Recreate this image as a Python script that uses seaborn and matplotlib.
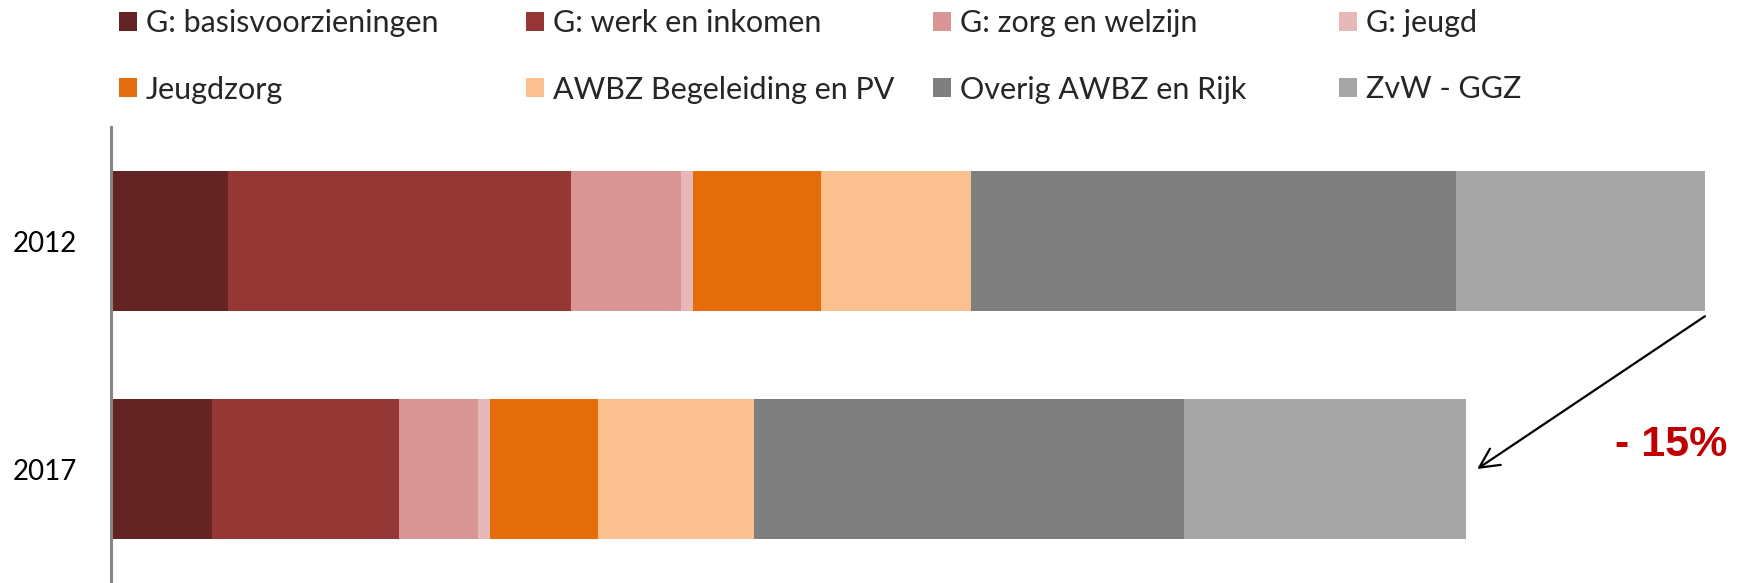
import pandas as pd
import matplotlib.pyplot as plt
from matplotlib.patches import Patch
import seaborn as sns

# index, 2012 total = 100
years = ["2012", "2017"]
categories = ["G: basisvoorzieningen", "G: werk en inkomen", "G: zorg en welzijn", "G: jeugd",
              "Jeugdzorg", "AWBZ Begeleiding en PV", "Overig AWBZ en Rijk", "ZvW - GGZ"]
values_2012 = [7.3, 21.5, 6.9, 0.8, 8.0, 9.4, 30.5, 15.6]
values_2017 = [6.3, 11.7, 5.0, 0.7, 6.8, 9.8, 27.0, 17.7]
colors = ["#632423", "#953735", "#D99594", "#E6B9B8",
          "#E46C0A", "#FAC090", "#7F7F7F", "#A6A6A6"]
change_label = "- 15%"

df = pd.DataFrame({"2012": values_2012, "2017": values_2017}, index=categories)
cum = df.cumsum()

sns.set_theme(style="white")
plt.rcParams["font.family"] = ["Lato", "DejaVu Sans"]

fig = plt.figure(figsize=(17.47, 5.83), dpi=100)
ax = fig.add_axes([110.5 / 1747, 0, 1 - 110.5 / 1747, 456 / 583])

# stacked bars: draw cumulative totals from the back to the front
for cat, col in reversed(list(zip(categories, colors))):
    sns.barplot(x=cum.loc[cat].values, y=years, orient="h", color=col,
                saturation=1, width=0.616, linewidth=0, ax=ax)

ax.set_ylim(1.5, -0.5)
ax.set_xlim(-0.094, 102.64)
ax.set_xlabel("")
ax.set_ylabel("")
ax.set_xticks([])
ax.tick_params(axis="y", length=0, pad=24, labelsize=20, labelcolor="black")
for s in ["top", "right", "bottom"]:
    ax.spines[s].set_visible(False)
ax.spines["left"].set_color("#868686")
ax.spines["left"].set_linewidth(2.2)

# arrow from end of 2012 bar to end of 2017 bar
tot12 = cum.loc[categories[-1], "2012"]
tot17 = cum.loc[categories[-1], "2017"]
ax.annotate("", xy=(tot17 + 0.7, 1.0), xytext=(tot12, 0.33),
            arrowprops=dict(arrowstyle="->,head_length=0.7,head_width=0.35",
                            mutation_scale=20, lw=1.6, color="black",
                            shrinkA=0, shrinkB=0))
fig.text(1727 / 1747, 1 - 445 / 583, change_label, ha="right", va="center",
         fontsize=31, fontweight="bold", color="#C00000",
         family=["Liberation Sans", "DejaVu Sans"])

# legend: 4 columns x 2 rows, evenly spaced
fs = 22
fs_px = fs * 100 / 72
col_x = [119, 526, 933, 1339]
row_y = [23, 89.5]
for i, (cat, col) in enumerate(zip(categories, colors)):
    x = col_x[i % 4] / 1747
    y = 1 - row_y[i // 4] / 583
    fig.legend(handles=[Patch(facecolor=col, edgecolor="none")], labels=[cat],
               loc="center left", bbox_to_anchor=(x, y), frameon=False,
               fontsize=fs, borderpad=0, borderaxespad=0,
               handlelength=18 / fs_px, handleheight=18 / fs_px,
               handletextpad=9 / fs_px)

plt.savefig("out.png", dpi=100)
